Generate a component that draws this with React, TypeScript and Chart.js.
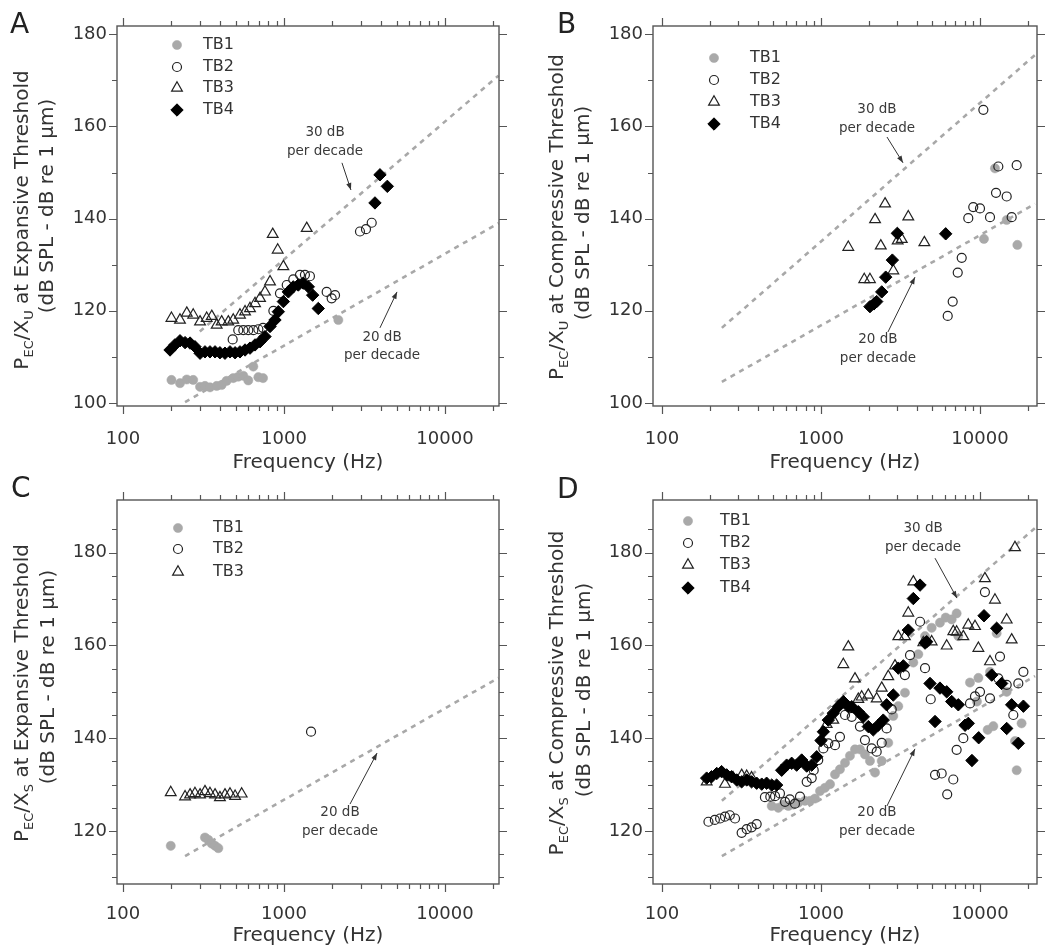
import React, { useEffect, useRef } from 'react';
import { Chart, registerables } from 'chart.js';

Chart.register(...registerables);

const FONT = '"DejaVu Sans", sans-serif';
const INK = '#333333';
const AXIS = '#555555';
const GREY = '#a9a9a9';
const DASH = '#a8a8a8';

// ---- axis ticks ----
const xTicksAll = [100, 200, 300, 400, 500, 600, 700, 800, 900, 1000, 2000, 3000, 4000, 5000, 6000, 7000, 8000, 9000, 10000, 20000];
const xTickLabels = [100, 1000, 10000];
const yTicksAB = [100, 110, 120, 130, 140, 150, 160, 170, 180];
const yLabelsAB = [100, 120, 140, 160, 180];
const yTicksCD = [110, 115, 120, 125, 130, 135, 140, 145, 150, 155, 160, 165, 170, 175, 180, 185];
const yLabelsCD = [120, 140, 160, 180];

// ---- Panel A ----
const aTB1Freq = [200, 226, 249, 273, 301, 323, 347, 382, 410, 440, 484, 520, 559, 600, 645, 693, 741, 2175];
const aTB1Db = [105.0, 104.3, 105.1, 105.0, 103.5, 103.7, 103.4, 103.7, 103.9, 104.8, 105.4, 105.7, 105.9, 104.9, 107.9, 105.6, 105.4, 118.0];
const aTB2Freq = [480, 520, 559, 600, 645, 693, 741, 859, 944, 1040, 1142, 1257, 1349, 1449, 1841, 1977, 2075, 2965, 3230, 3506];
const aTB2Db = [113.8, 115.8, 115.8, 115.8, 115.8, 116.0, 116.3, 120.0, 123.8, 125.6, 126.8, 127.8, 127.8, 127.5, 124.1, 122.7, 123.4, 137.2, 137.7, 139.1];
const aTB3Freq = [200, 226, 249, 273, 301, 331, 356, 382, 410, 451, 484, 533, 573, 615, 661, 710, 762, 819, 851, 914, 991, 1384];
const aTB3Db = [118.4, 118.0, 119.5, 119.1, 117.6, 118.4, 118.8, 116.9, 117.6, 117.6, 118.0, 119.1, 119.8, 120.5, 121.6, 122.7, 124.1, 126.3, 136.6, 133.2, 129.6, 137.9];
const aTB4Freq = [196, 210, 226, 243, 261, 280, 301, 323, 347, 373, 400, 430, 462, 497, 533, 573, 615, 661, 710, 762, 819, 879, 922, 991, 1064, 1142, 1227, 1318, 1416, 1507, 1633, 3673, 3945, 4383];
const aTB4Db = [111.5, 112.6, 113.5, 113.1, 113.0, 112.2, 110.8, 111.1, 111.1, 111.1, 110.9, 110.8, 111.1, 110.9, 111.1, 111.5, 111.9, 112.6, 113.3, 114.4, 116.6, 118.0, 119.8, 122.0, 124.1, 125.2, 125.6, 126.0, 125.2, 123.4, 120.5, 143.4, 149.5, 147.0];
const aLine30Freq = [300, 21500];
const aLine30Db = [115.5, 171.0];
const aLine20Freq = [243, 21500];
const aLine20Db = [100.2, 139.0];

// ---- Panel B ----
const bTB1Freq = [10590, 12420, 14720, 17180];
const bTB1Db = [135.6, 150.9, 139.7, 134.3];
const bTB2Freq = [6266, 6734, 7244, 7674, 8440, 9070, 10000, 10500, 11560, 12610, 13040, 14720, 15820, 17010];
const bTB2Db = [118.9, 122.0, 128.3, 131.5, 140.1, 142.5, 142.2, 163.6, 140.3, 145.6, 151.3, 144.8, 140.3, 151.6];
const bTB3Freq = [1485, 1871, 2032, 2188, 2377, 2529, 2851, 3036, 3221, 3540, 4467];
const bTB3Db = [133.8, 126.8, 126.8, 139.8, 134.1, 143.2, 128.7, 135.2, 135.5, 140.4, 134.8];
const bTB4Freq = [2032, 2153, 2240, 2410, 2553, 2811, 3020, 6085];
const bTB4Db = [120.9, 121.5, 122.0, 124.1, 127.3, 131.0, 136.8, 136.7];
const bLine30Freq = [238, 22200];
const bLine30Db = [116.3, 175.5];
const bLine20Freq = [238, 22200];
const bLine20Db = [104.6, 143.2];

// ---- Panel C ----
const cTB1Freq = [198, 323, 339, 355, 373, 391];
const cTB1Db = [116.8, 118.6, 118.1, 117.3, 116.8, 116.3];
const cTB2Freq = [1472];
const cTB2Db = [141.4];
const cTB3Freq = [198, 243, 261, 280, 301, 323, 347, 373, 400, 430, 462, 497, 546];
const cTB3Db = [128.3, 127.4, 127.8, 128.1, 127.8, 128.5, 128.1, 127.8, 127.2, 127.8, 128.0, 127.5, 128.0];
const cLine20Freq = [243, 21500];
const cLine20Db = [114.6, 153.0];

// ---- Panel D ----
const dTB1Freq = [490, 539, 580, 623, 670, 720, 793, 853, 917, 986, 1059, 1140, 1225, 1316, 1416, 1521, 1636, 1758, 1890, 2032, 2187, 2409, 2649, 2849, 3063, 3373, 3808, 4093, 4511, 4966, 5600, 6085, 6637, 7130, 7306, 8650, 9570, 9770, 11170, 11560, 12130, 12730, 14720, 16600, 17010, 18260];
const dTB1Db = [125.4, 125.0, 125.7, 125.4, 125.7, 126.1, 126.5, 126.5, 127.0, 128.6, 129.3, 130.1, 132.2, 133.3, 134.7, 136.2, 137.6, 137.6, 136.5, 135.1, 132.6, 135.1, 139.0, 144.8, 146.9, 149.8, 156.3, 158.1, 162.0, 163.8, 164.9, 166.0, 165.6, 166.9, 162.0, 152.0, 147.9, 153.0, 141.8, 154.3, 142.6, 162.6, 150.0, 139.4, 133.1, 143.2];
const dTB2Freq = [196, 215, 232, 249, 267, 288, 317, 341, 366, 394, 444, 480, 514, 552, 594, 637, 686, 738, 813, 874, 900, 961, 1035, 1112, 1225, 1316, 1416, 1560, 1758, 1890, 2083, 2240, 2410, 2588, 2785, 3370, 3630, 4198, 4511, 4900, 5214, 5741, 6220, 6793, 7130, 7855, 8650, 9300, 10000, 10740, 11560, 13040, 13360, 14720, 16200, 17420, 18750];
const dTB2Db = [122.0, 122.4, 122.7, 123.1, 123.4, 122.7, 119.6, 120.4, 120.8, 121.5, 127.3, 127.4, 127.5, 128.1, 126.3, 126.8, 125.9, 127.4, 130.6, 131.4, 133.1, 135.3, 137.8, 138.9, 138.5, 140.3, 145.0, 144.6, 142.5, 139.6, 137.8, 137.1, 139.0, 142.1, 146.2, 153.6, 157.9, 165.1, 155.1, 148.4, 132.1, 132.4, 127.9, 131.1, 137.5, 140.0, 147.5, 149.0, 150.0, 171.5, 148.6, 152.9, 157.6, 151.5, 145.0, 151.8, 154.3];
const dTB3Freq = [191, 249, 280, 317, 341, 366, 1086, 1195, 1382, 1485, 1636, 1717, 1803, 1984, 2240, 2410, 2649, 2920, 3063, 3370, 3540, 3808, 4402, 4966, 6175, 6793, 7130, 7855, 8440, 9305, 9770, 10740, 11560, 12420, 14720, 15820, 16600];
const dTB3Db = [130.6, 130.1, 131.5, 132.0, 131.8, 131.5, 143.0, 143.9, 155.9, 159.7, 152.8, 148.4, 148.9, 149.3, 148.5, 150.8, 153.3, 155.6, 161.9, 161.9, 167.0, 173.7, 160.6, 160.8, 159.9, 163.0, 162.9, 161.9, 164.4, 164.1, 159.4, 174.4, 156.5, 169.8, 165.5, 161.2, 181.1];
const dTB4Freq = [191, 205, 221, 237, 255, 274, 295, 317, 341, 366, 394, 424, 455, 490, 526, 566, 608, 654, 703, 756, 813, 874, 940, 1000, 1035, 1112, 1196, 1285, 1382, 1485, 1560, 1717, 1845, 1984, 2133, 2291, 2464, 2588, 2849, 3063, 3295, 3540, 3808, 4198, 4511, 4621, 4849, 5214, 5600, 6175, 6637, 7306, 8054, 8440, 8900, 9810, 10600, 11850, 12730, 13680, 14720, 15820, 17420, 18750];
const dTB4Db = [131.4, 131.7, 132.4, 132.8, 132.1, 131.7, 131.0, 130.6, 131.0, 130.6, 130.3, 130.1, 130.3, 129.9, 129.9, 133.1, 134.2, 134.6, 134.2, 135.3, 134.0, 134.2, 136.0, 139.5, 141.4, 143.9, 145.4, 146.8, 147.9, 146.8, 146.8, 145.7, 144.6, 142.5, 141.8, 142.8, 143.9, 147.2, 149.3, 155.1, 155.6, 163.3, 170.1, 173.0, 160.5, 160.8, 151.8, 143.6, 150.8, 150.0, 147.9, 147.2, 142.8, 143.2, 135.2, 140.1, 166.4, 153.6, 163.7, 151.8, 142.1, 147.2, 138.9, 146.9];
const dLine30Freq = [238, 22200];
const dLine30Db = [126.5, 185.3];
const dLine20Freq = [238, 22200];
const dLine20Db = [114.6, 153.4];

// ---- series styles ----
const STYLE: any = {
  TB1: { pointStyle: 'circle', radius: 4.6, fill: GREY, stroke: GREY, width: 0.5 },
  TB2: { pointStyle: 'circle', radius: 4.5, fill: 'rgba(0,0,0,0)', stroke: '#222', width: 1.2 },
  TB3: { pointStyle: 'triangle', radius: 6.2, fill: 'rgba(0,0,0,0)', stroke: '#222', width: 1.2 },
  TB4: { pointStyle: 'rectRot', radius: 6.2, fill: '#000', stroke: '#000', width: 1 },
};
const ORDER: any = { TB1: 4, TB2: 3, TB3: 2, TB4: 1 };

function pts(f: number[], d: number[]) {
  return f.map((v, i) => ({ x: v, y: d[i] }));
}

const PANELS: any[] = [
  {
    key: 'A', left: 0, top: 0,
    frame: { l: 117, r: 499, t: 26, b: 406 },
    xr: [91.8, 21646], yr: [99.35, 181.78], yTicks: yTicksAB, yLabels: yLabelsAB,
    xPad: 23, titlePad: 1,
    letter: { x: 10, y: 33 },
    yTitle: { seg: [['P', 0], ['EC', 1], ['/X', 0], ['U', 1], [' at Expansive Threshold', 0]], x1: 28, c1: 220, x2: 53, c2: 206 },
    legend: { mx: 177, tx: 203, rows: [45, 67, 88, 110] },
    series: [['TB1', aTB1Freq, aTB1Db], ['TB2', aTB2Freq, aTB2Db], ['TB3', aTB3Freq, aTB3Db], ['TB4', aTB4Freq, aTB4Db]],
    lines: [[aLine30Freq, aLine30Db], [aLine20Freq, aLine20Db]],
    notes: [
      { text: ['30 dB', 'per decade'], f: 1799, d: 158.6, a: [2291, 152.1, 2606, 146.2] },
      { text: ['20 dB', 'per decade'], f: 4064, d: 114.3, a: [3945, 116.3, 5035, 124.1] },
    ],
  },
  {
    key: 'B', left: 525, top: 0,
    frame: { l: 128, r: 512, t: 26, b: 406 },
    xr: [87.8, 22830], yr: [99.35, 181.78], yTicks: yTicksAB, yLabels: yLabelsAB,
    xPad: 23, titlePad: 1,
    letter: { x: 32, y: 33 },
    yTitle: { seg: [['P', 0], ['EC', 1], ['/X', 0], ['U', 1], [' at Compressive Threshold', 0]], x1: 38, c1: 217, x2: 64, c2: 213 },
    legend: { mx: 189, tx: 225, rows: [58, 80, 102, 124] },
    series: [['TB1', bTB1Freq, bTB1Db], ['TB2', bTB2Freq, bTB2Db], ['TB3', bTB3Freq, bTB3Db], ['TB4', bTB4Freq, bTB4Db]],
    lines: [[bLine30Freq, bLine30Db], [bLine20Freq, bLine20Db]],
    notes: [
      { text: ['30 dB', 'per decade'], f: 2249, d: 163.6, a: [2600, 157.7, 3280, 152.1] },
      { text: ['20 dB', 'per decade'], f: 2281, d: 113.7, a: [2636, 115.4, 3899, 127.3] },
    ],
  },
  {
    key: 'C', left: 0, top: 476,
    frame: { l: 117, r: 499, t: 24, b: 408 },
    xr: [91.8, 21646], yr: [108.58, 191.34], yTicks: yTicksCD, yLabels: yLabelsCD,
    xPad: 20, titlePad: 4,
    letter: { x: 11, y: 21 },
    yTitle: { seg: [['P', 0], ['EC', 1], ['/X', 0], ['S', 1], [' at Expansive Threshold', 0]], x1: 28, c1: 217, x2: 54, c2: 201 },
    legend: { mx: 178, tx: 213, rows: [52, 73, 96] },
    series: [['TB1', cTB1Freq, cTB1Db], ['TB2', cTB2Freq, cTB2Db], ['TB3', cTB3Freq, cTB3Db]],
    lines: [[cLine20Freq, cLine20Db]],
    notes: [
      { text: ['20 dB', 'per decade'], f: 2228, d: 123.9, a: [2570, 125.8, 3784, 136.8] },
    ],
  },
  {
    key: 'D', left: 525, top: 476,
    frame: { l: 128, r: 512, t: 24, b: 408 },
    xr: [87.8, 22830], yr: [108.58, 191.34], yTicks: yTicksCD, yLabels: yLabelsCD,
    xPad: 20, titlePad: 4,
    letter: { x: 32, y: 22 },
    yTitle: { seg: [['P', 0], ['EC', 1], ['/X', 0], ['S', 1], [' at Compressive Threshold', 0]], x1: 38, c1: 217, x2: 65, c2: 214 },
    legend: { mx: 163, tx: 195, rows: [45, 67, 89, 112] },
    series: [['TB1', dTB1Freq, dTB1Db], ['TB2', dTB2Freq, dTB2Db], ['TB3', dTB3Freq, dTB3Db], ['TB4', dTB4Freq, dTB4Db]],
    lines: [[dLine30Freq, dLine30Db], [dLine20Freq, dLine20Db]],
    notes: [
      { text: ['30 dB', 'per decade'], f: 4385, d: 185.1, a: [5213, 178.8, 7160, 170.2] },
      { text: ['20 dB', 'per decade'], f: 2249, d: 123.9, a: [2600, 125.4, 3899, 137.7] },
    ],
  },
];

function drawMarker(ctx: CanvasRenderingContext2D, st: any, x: number, y: number) {
  const r = st.radius;
  ctx.beginPath();
  if (st.pointStyle === 'circle') {
    ctx.arc(x, y, r, 0, Math.PI * 2);
  } else if (st.pointStyle === 'triangle') {
    let rad = 0;
    ctx.moveTo(x + Math.sin(rad) * r, y - Math.cos(rad) * r);
    rad += (2 * Math.PI) / 3;
    ctx.lineTo(x + Math.sin(rad) * r, y - Math.cos(rad) * r);
    rad += (2 * Math.PI) / 3;
    ctx.lineTo(x + Math.sin(rad) * r, y - Math.cos(rad) * r);
    ctx.closePath();
  } else {
    ctx.moveTo(x - r, y);
    ctx.lineTo(x, y - r);
    ctx.lineTo(x + r, y);
    ctx.lineTo(x, y + r);
    ctx.closePath();
  }
  ctx.fillStyle = st.fill;
  ctx.fill();
  ctx.lineWidth = st.width;
  ctx.strokeStyle = st.stroke;
  ctx.stroke();
}

const decorPlugin = {
  id: 'decor',
  afterDraw(chart: any, _args: any, o: any) {
    const p = o.panel;
    if (!p) return;
    const ctx: CanvasRenderingContext2D = chart.ctx;
    const { left, right, top, bottom } = chart.chartArea;
    const xs = chart.scales.x;
    const ys = chart.scales.y;
    ctx.save();

    // frame
    ctx.strokeStyle = AXIS;
    ctx.lineWidth = 1.4;
    ctx.strokeRect(left, top, right - left, bottom - top);

    // ticks on all four sides
    ctx.lineWidth = 1.2;
    ctx.beginPath();
    xTicksAll.forEach((v) => {
      const px = Math.round(xs.getPixelForValue(v)) + 0.5;
      const len = xTickLabels.includes(v) ? 8 : 5;
      ctx.moveTo(px, bottom);
      ctx.lineTo(px, bottom + len);
      ctx.moveTo(px, top);
      ctx.lineTo(px, top - len);
    });
    p.yTicks.forEach((v: number) => {
      const py = Math.round(ys.getPixelForValue(v)) + 0.5;
      const len = p.yLabels.includes(v) ? 8 : 5;
      ctx.moveTo(left, py);
      ctx.lineTo(left - len, py);
      ctx.moveTo(right, py);
      ctx.lineTo(right + len, py);
    });
    ctx.stroke();

    // panel letter
    ctx.fillStyle = '#222';
    ctx.font = `28px ${FONT}`;
    ctx.textAlign = 'left';
    ctx.textBaseline = 'alphabetic';
    ctx.fillText(p.key, p.letter.x, p.letter.y);

    // y title with subscripts
    const yt = p.yTitle;
    const drawRot = (segs: any[], bx: number, cy: number) => {
      ctx.save();
      ctx.translate(bx, cy);
      ctx.rotate(-Math.PI / 2);
      ctx.fillStyle = INK;
      ctx.textAlign = 'left';
      ctx.textBaseline = 'alphabetic';
      let total = 0;
      const widths = segs.map((s: any) => {
        ctx.font = s[1] ? `13px ${FONT}` : `20px ${FONT}`;
        const w = ctx.measureText(s[0]).width;
        total += w;
        return w;
      });
      let u = -total / 2;
      segs.forEach((s: any, i: number) => {
        ctx.font = s[1] ? `13px ${FONT}` : `20px ${FONT}`;
        ctx.fillText(s[0], u, s[1] ? 5 : 0);
        u += widths[i];
      });
      ctx.restore();
    };
    drawRot(yt.seg, yt.x1, yt.c1);
    drawRot([['(dB SPL - dB re 1 \u03bcm)', 0]], yt.x2, yt.c2);

    // legend
    const lg = p.legend;
    p.series.forEach((s: any, i: number) => {
      const y = lg.rows[i];
      drawMarker(ctx, STYLE[s[0]], lg.mx, y);
      ctx.fillStyle = INK;
      ctx.font = `16px ${FONT}`;
      ctx.textAlign = 'left';
      ctx.textBaseline = 'middle';
      ctx.fillText(s[0], lg.tx, y);
    });

    // annotations
    p.notes.forEach((n: any) => {
      const tx = xs.getPixelForValue(n.f);
      const ty = ys.getPixelForValue(n.d);
      ctx.fillStyle = '#3a3a3a';
      ctx.font = `13.5px ${FONT}`;
      ctx.textAlign = 'center';
      ctx.textBaseline = 'middle';
      n.text.forEach((t: string, i: number) => ctx.fillText(t, tx, ty + i * 18.5));
      const x1 = xs.getPixelForValue(n.a[0]);
      const y1 = ys.getPixelForValue(n.a[1]);
      const x2 = xs.getPixelForValue(n.a[2]);
      const y2 = ys.getPixelForValue(n.a[3]);
      ctx.strokeStyle = '#333';
      ctx.lineWidth = 1;
      ctx.beginPath();
      ctx.moveTo(x1, y1);
      ctx.lineTo(x2, y2);
      ctx.stroke();
      const ang = Math.atan2(y2 - y1, x2 - x1);
      const hl = 7, hw = 2.6;
      ctx.beginPath();
      ctx.moveTo(x2, y2);
      ctx.lineTo(x2 - hl * Math.cos(ang) + hw * Math.sin(ang), y2 - hl * Math.sin(ang) - hw * Math.cos(ang));
      ctx.lineTo(x2 - hl * Math.cos(ang) - hw * Math.sin(ang), y2 - hl * Math.sin(ang) + hw * Math.cos(ang));
      ctx.closePath();
      ctx.fillStyle = '#333';
      ctx.fill();
    });

    ctx.restore();
  },
};

function buildConfig(p: any): any {
  const datasets: any[] = [];
  p.series.forEach((s: any) => {
    const st = STYLE[s[0]];
    datasets.push({
      label: s[0],
      data: pts(s[1], s[2]),
      pointStyle: st.pointStyle,
      pointRadius: st.radius,
      pointBackgroundColor: st.fill,
      pointBorderColor: st.stroke,
      pointBorderWidth: st.width,
      showLine: false,
      order: ORDER[s[0]],
    });
  });
  p.lines.forEach((l: any) => {
    datasets.push({
      type: 'line',
      label: 'slope',
      data: pts(l[0], l[1]),
      borderColor: DASH,
      borderWidth: 2.6,
      borderDash: [5, 5],
      pointRadius: 0,
      showLine: true,
      fill: false,
      order: 10,
    });
  });
  const fr = p.frame;
  return {
    type: 'scatter',
    data: { datasets },
    options: {
      responsive: false,
      animation: false,
      devicePixelRatio: 1,
      events: [],
      layout: { padding: { left: 0, right: 525 - fr.r, top: fr.t, bottom: 0 } },
      plugins: {
        legend: { display: false },
        tooltip: { enabled: false },
        decor: { panel: p },
      },
      scales: {
        x: {
          type: 'logarithmic',
          position: 'bottom',
          min: p.xr[0],
          max: p.xr[1],
          afterBuildTicks: (s: any) => {
            s.ticks = xTickLabels.map((v) => ({ value: v }));
          },
          afterFit: (s: any) => {
            s.height = 476 - fr.b;
            s.paddingLeft = 0;
            s.paddingRight = 0;
          },
          grid: { display: false, drawTicks: false },
          border: { display: false },
          ticks: {
            autoSkip: false,
            maxRotation: 0,
            padding: p.xPad,
            color: INK,
            font: { family: FONT, size: 18 },
            callback: (v: any) => String(v),
          },
          title: {
            display: true,
            text: 'Frequency (Hz)',
            color: INK,
            font: { family: FONT, size: 20 },
            padding: { top: 0, bottom: p.titlePad },
          },
        },
        y: {
          type: 'linear',
          min: p.yr[0],
          max: p.yr[1],
          afterBuildTicks: (s: any) => {
            s.ticks = p.yLabels.map((v: number) => ({ value: v }));
          },
          afterFit: (s: any) => {
            s.width = fr.l;
            s.paddingTop = 0;
            s.paddingBottom = 0;
          },
          grid: { display: false, drawTicks: false },
          border: { display: false },
          ticks: {
            padding: 10,
            color: INK,
            font: { family: FONT, size: 18 },
            callback: (v: any) => String(v),
          },
        },
      },
    },
    plugins: [decorPlugin],
  };
}

function Panel({ p }: { p: any }) {
  const ref = useRef<HTMLCanvasElement | null>(null);
  useEffect(() => {
    if (!ref.current) return;
    const chart = new Chart(ref.current, buildConfig(p));
    return () => chart.destroy();
  }, [p]);
  return (
    <div style={{ position: 'absolute', left: p.left, top: p.top, width: 525, height: 476 }}>
      <canvas ref={ref} width={525} height={476} style={{ display: 'block', width: 525, height: 476 }} />
    </div>
  );
}

export default function App() {
  return (
    <div style={{ position: 'absolute', left: 0, top: 0, width: 1050, height: 952, background: '#fff', overflow: 'hidden' }}>
      {PANELS.map((p) => (
        <Panel key={p.key} p={p} />
      ))}
    </div>
  );
}
